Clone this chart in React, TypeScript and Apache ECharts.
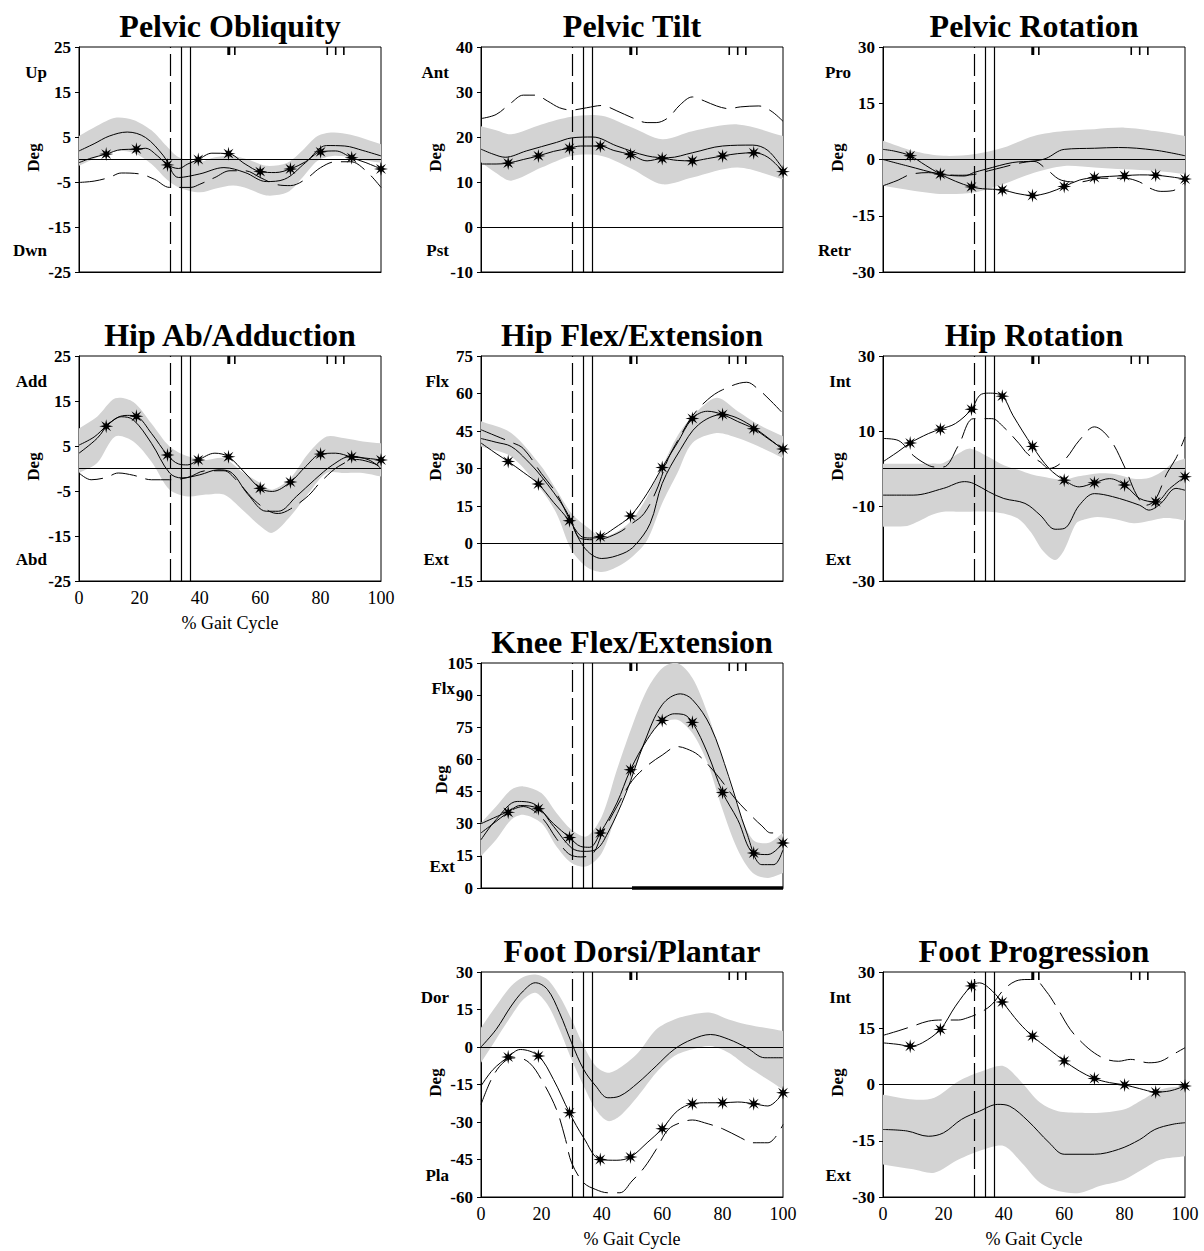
import React, { useEffect, useRef } from "react";
import * as echarts from "echarts";

// ---------- shared gait events ----------
const STAR_X = [9, 19, 29.3, 39.5, 49.5, 60, 70, 80, 90.3, 100];
const EVENT_DASHED_X = [30.3];
const EVENT_SOLID_X = [33.7, 37.0];
const TOP_TICKS_HEAVY = [49.6];
const TOP_TICKS_LIGHT = [51.6, 82.2, 85.0, 87.7];
const KNEE_BAR_X = [50, 100];

// ---------- Pelvic Obliquity ----------
const PO_BAND_X = [0, 6, 12, 18, 24, 29, 33, 40, 45, 51, 56, 62, 69, 74, 79, 84, 90, 95, 100];
const PO_BAND_HI = [5.2, 7.5, 9.3, 8.8, 6.5, 3, 0.5, -0.5, 0.5, 0.8, 0, -1.4, -0.7, 2, 5.2, 6, 5.5, 4.5, 3.4];
const PO_BAND_LO = [-1.4, 0.5, 1.9, 1.5, -1, -4.4, -6.2, -7.3, -6.5, -5.8, -6.5, -8, -7.3, -4, -0.3, 0.8, 0.5, -0.2, -0.7];
const PO_MEAN = [[0, 1.9], [5, 3.5], [10, 5.2], [16, 6.1], [22, 4.9], [28, 0.8], [33, -4], [40, -3.2], [48, -1.8], [55, -2.9], [62, -4.9], [68, -4.4], [75, -0.7], [82, 3.1], [88, 3], [94, 2], [100, 0.8]];
const PO_STAR = [[0, -0.7], [4, 0.3], [9, 1.2], [14, 2.2], [19, 2.3], [22, 2.5], [26, 0.8], [29.3, -1.2], [33, -2], [36, -1], [39.5, 0], [44, 1.4], [49.5, 1.3], [55, -1], [60, -2.7], [65, -2.9], [70, -2.1], [75, -0.5], [80, 1.7], [85, 1.9], [90.3, 0.4], [95, -0.7], [100, -2.1]];
const PO_DASH = [[0, -5.1], [5, -4.8], [10, -4], [14, -3], [20, -3.2], [25, -4.4], [30, -6.2], [37, -6.2], [40, -5.5], [45, -4], [50, -2.5], [55, -2.5], [60, -4], [65, -5.5], [70, -5.8], [75, -4.4], [80, -1.8], [85, -0.5], [90, -0.5], [95, -2.5], [100, -6.2]];

// ---------- Pelvic Tilt ----------
const PT_BAND_X = [0, 5, 10, 20, 30, 40, 50, 60, 70, 85, 100];
const PT_BAND_HI = [22.4, 21.5, 20.6, 22.8, 24.5, 24.7, 22.1, 19.5, 21.3, 22.8, 20.2];
const PT_BAND_LO = [14.4, 12, 10.3, 13.2, 15.8, 15.8, 12.9, 9.5, 11, 13.2, 10.6];
const PT_MEAN = [[0, 17.3], [4, 16.2], [8, 15.5], [15, 16.9], [25, 18.8], [30, 19.8], [37, 20], [45, 18], [55, 15.8], [62, 15.4], [70, 16.5], [80, 18], [90, 18.2], [95, 17], [100, 12.9]];
const PT_STAR = [[0, 14], [5, 14], [9, 14.2], [14, 15], [19, 15.8], [24, 16.8], [29.3, 17.5], [33, 18], [37, 18], [39.5, 18], [44, 17], [49.5, 16.1], [55, 14.7], [60, 15.2], [65, 14.8], [70, 14.7], [75, 15.2], [80, 15.8], [85, 16.3], [90.3, 16.5], [95, 15.5], [100, 12.3]];
const PT_DASH = [[0, 24.1], [5, 25], [10, 27.6], [14, 29.3], [18, 29.3], [22, 28], [26, 26.5], [30, 26], [35, 26.5], [40, 27], [45, 25.8], [50, 24.3], [55, 23.2], [58, 23.2], [62, 24.3], [66, 27.2], [70, 28.9], [74, 28], [78, 26.9], [82, 26.3], [86, 26.7], [92, 26.9], [96, 25.8], [100, 23.5]];

// ---------- Pelvic Rotation ----------
const PR_BAND_X = [0, 10, 20, 30, 40, 50, 60, 70, 80, 90, 100];
const PR_BAND_HI = [5, 2.3, 1, 1.4, 3.2, 6.3, 7.6, 8.1, 8.5, 7.6, 6.3];
const PR_BAND_LO = [-7, -8.3, -9.2, -8.8, -6.5, -3.5, -1.7, -2.1, -2.6, -3, -3.9];
const PR_MEAN = [[0, 0], [8, -1.7], [19, -3.9], [27, -4.4], [30, -3.5], [34, -2.6], [43, -0.8], [50, -0.4], [54, 0.3], [60, 2.7], [70, 3], [78, 3.2], [90, 2.5], [100, 1]];
const PR_STAR = [[0, 2.7], [4, 2.2], [9, 1], [14, -1.5], [19, -3.9], [24, -5.8], [29.3, -7.3], [33, -7.8], [39.5, -8.1], [44, -9], [49.5, -9.6], [55, -8.8], [60, -7.2], [65, -5.5], [70, -4.8], [75, -4.5], [80, -4.3], [85, -4.1], [90.3, -4.2], [95, -4.6], [100, -5.2]];
const PR_DASH = [[0, -7], [5, -5.5], [9, -4], [15, -3.5], [20, -4], [25, -4.2], [30, -4], [35, -3], [40, -2], [45, -1], [50, -0.5], [54, -2.5], [59, -5.5], [65, -6], [72, -5], [80, -5], [85, -6], [88, -7.5], [92, -8.5], [96, -8.3], [100, -6]];

// ---------- Hip Ab/Adduction ----------
const HA_BAND_X = [0, 6, 12, 18, 24, 30, 36, 42, 48, 54, 60, 64, 70, 76, 82, 88, 94, 100];
const HA_BAND_HI = [8.9, 11.5, 15.6, 14.8, 10, 4.9, 2.7, 1.9, 2.3, -0.7, -3.2, -4.7, -2.1, 3.4, 7.1, 6.7, 6, 5.6];
const HA_BAND_LO = [-1, 1.2, 7.1, 6, 1.5, -4.7, -6.2, -5.8, -5.8, -9.1, -12.8, -14.3, -10.6, -5.5, -1, -1, -1, -1.8];
const HA_MEAN = [[0, 3.4], [6, 6.7], [10, 10], [14, 11.5], [18, 10.8], [24, 5.6], [30, -1], [34, -2.1], [40, -1.4], [46, -0.3], [50, -0.7], [56, -5.8], [62, -9.5], [66, -9.5], [72, -6.2], [78, -2.5], [84, 0.8], [90, 2.7], [96, 1.9], [100, 0]];
const HA_STAR = [[0, 5.2], [5, 7], [9, 9.4], [13, 11.4], [16, 11.8], [19, 11.6], [24, 7.8], [29.3, 3], [33, 1], [36, 0.8], [39.5, 1.9], [45, 3.4], [49.5, 2.6], [55, -1], [60, -4.4], [64, -5.1], [70, -3], [75, 0.4], [80, 3.2], [85, 3.4], [90.3, 2.6], [95, 2.3], [100, 1.9]];
const HA_DASH = [[0, -1], [4, -2.5], [9, -2], [13, -1], [18, -1.5], [24, -2.5], [30, -2.5], [36, -2], [42, -0.5], [48, -0.5], [52, -2.5], [58, -7], [63, -9.5], [66, -10], [70, -9], [76, -6], [80, -3], [86, 0.5], [92, 2], [100, 0.5]];

// ---------- Hip Flex/Extension ----------
const HF_BAND_X = [0, 10, 20, 25, 30, 35, 40, 45, 50, 55, 60, 65, 70, 78, 85, 92, 100];
const HF_BAND_HI = [48.9, 44.2, 30.8, 21.4, 12, 6.7, 2.7, 4.7, 9.4, 18.7, 30.8, 42.9, 50.9, 58.3, 52.9, 47.5, 42.9];
const HF_BAND_LO = [38.8, 34.8, 21.4, 12, -2.7, -9.4, -11.4, -9.4, -5.4, 1.3, 16.1, 28.1, 40.2, 44.2, 42.2, 38.8, 34.2];
const HF_MEAN = [[0, 42], [5, 40.5], [10, 38.8], [15, 33.5], [20, 26.8], [28, 13.4], [34, -1.3], [40, -6], [47, -4], [51, -0.7], [56, 8], [60, 24], [66, 37.5], [72, 47.5], [80, 51.6], [88, 48.2], [100, 37.5]];
const HF_STAR = [[0, 40.2], [5, 36], [9, 32.8], [14, 28.5], [19, 23.8], [24, 16.5], [29.3, 9.1], [33, 3], [36, 2.2], [39.5, 2.7], [44, 6], [49.5, 11], [55, 20], [60, 30.4], [65, 40.2], [70, 50], [75, 52.9], [80, 51.6], [85, 48.8], [90.3, 45.9], [95, 42], [100, 37.8]];
const HF_DASH = [[0, 45.5], [5, 43], [10, 40.5], [14, 38], [20, 28], [25, 20], [30, 8], [33, 2], [38, 1.5], [45, 4], [50, 8], [54, 12], [58, 21], [62, 34], [66, 43], [70, 51], [75, 57.5], [80, 61.5], [88, 64.5], [92, 61.5], [96, 57], [100, 52]];

// ---------- Hip Rotation ----------
const HR_BAND_X = [0, 8, 12, 16, 20, 25, 29, 35, 40, 45, 49, 53, 57, 60, 64, 67, 71, 77, 83, 88, 92, 96, 100];
const HR_BAND_HI = [1.3, 1.3, 1.3, 1.3, 1.5, 4, 5.3, 3.1, 0.9, -0.4, -1.5, -2.2, -2.8, -3.1, -2.2, -1.8, -1.3, -1.5, -2.7, -2.5, -1, 1.5, 2.7];
const HR_BAND_LO = [-15.5, -15.3, -14, -12.4, -11.5, -11.5, -11.5, -11.5, -12, -13.5, -17, -22, -24.4, -21.7, -14.6, -13.5, -12.9, -13.5, -14.6, -14, -13.3, -13.3, -13.8];
const HR_MEAN = [[0, -7.1], [10, -7.1], [20, -5.3], [27, -3.5], [30, -4], [35, -6.2], [40, -8], [47, -9.3], [52, -12.4], [57, -16.2], [60, -16], [65, -9.8], [70, -6.7], [76, -7.5], [85, -9.8], [88, -11.1], [92, -9.3], [97, -5.3], [100, -5.8]];
const HR_STAR = [[0, 1.8], [5, 4.5], [9, 6.8], [15, 9.3], [19, 10.5], [24, 12], [29.3, 15.8], [32, 19.5], [35, 20.1], [39.5, 19.3], [43, 14.2], [49.5, 5.9], [55, 0], [60, -3.1], [65, -4.9], [70, -3.8], [75, -2.7], [80, -4.4], [85, -8], [90.3, -8.9], [95, -5.3], [100, -2.2]];
const HR_DASH = [[0, 8], [5, 7.5], [10, 3.5], [14, 1.3], [17, 0.4], [20, 0.4], [25, 6.2], [30, 13.3], [36, 13.3], [40, 11], [45, 6.7], [48, 3.8], [52, 1.8], [55, 0], [60, 2.2], [65, 7.5], [70, 11.1], [75, 8], [80, 0.4], [84, -7.1], [87, -9.8], [90, -8.5], [94, -1.3], [97, 2.7], [100, 8.4]];

// ---------- Knee Flex/Extension ----------
const KN_BAND_X = [0, 5, 10, 14, 20, 25, 30, 35, 40, 45, 50, 55, 60, 65, 70, 75, 80, 85, 90, 95, 100];
const KN_BAND_HI = [30.3, 38, 45.8, 47.4, 44.3, 35, 27.2, 24.1, 33.4, 55.2, 75.4, 92.6, 102.6, 105, 98, 81.6, 59.9, 38.1, 22.5, 21, 25.7];
const KN_BAND_LO = [14.8, 22.5, 31.9, 34.2, 30.3, 19.4, 11.7, 10.1, 16.3, 35, 52.1, 69.2, 77, 78.5, 72.3, 58.3, 36.5, 17.9, 7, 4.7, 7];
const KN_MEAN = [[0, 22.5], [5, 31.9], [12, 40.4], [18, 38.9], [24, 28.8], [30, 18.7], [34, 17.1], [38, 17.9], [42, 25.7], [48, 44.3], [54, 67.6], [60, 85.5], [66, 90.6], [70, 87.9], [76, 75.4], [82, 52.1], [88, 25.7], [93, 10.9], [97, 10.9], [100, 17.9]];
const KN_STAR = [[0, 25.7], [4, 30], [9, 35.3], [13, 38.5], [19, 37], [24, 30], [29.3, 23.6], [33, 19.4], [36, 19], [39.5, 25.7], [45, 39.7], [49.5, 55.2], [55, 69.2], [60, 78.2], [64, 81.3], [67, 81], [70, 77.3], [75, 63], [80, 44.6], [85, 31.9], [90.3, 16.3], [95, 15.6], [100, 21]];
const KN_DASH = [[0, 30], [8, 35], [14, 38], [20, 33], [25, 23], [29, 16], [33, 14.5], [37, 16], [40, 25], [45, 38], [50, 50], [55, 57], [60, 62], [65, 66], [68, 65], [72, 62], [78, 53], [84, 42], [90, 33], [93, 29], [96, 25.7], [100, 25.7]];

// ---------- Foot Dorsi/Plantar ----------
const FD_BAND_X = [0, 5, 10, 14, 18, 22, 26, 30, 34, 38, 42, 46, 52, 58, 64, 70, 76, 82, 88, 94, 100];
const FD_BAND_HI = [7.7, 16.4, 24.4, 28, 29, 27, 20.4, 11, 0.4, -7.6, -10.3, -8.3, -2.3, 7, 11, 13, 13.7, 11, 9, 7.7, 6.4];
const FD_BAND_LO = [-6.3, 3.1, 12.4, 19, 21.7, 17, 7, -5, -15.6, -25, -29.6, -27.6, -19.6, -10.3, -3.6, -0.9, 0.4, -2.3, -7.6, -12.3, -17];
const FD_MEAN = [[0, 0], [5, 7], [10, 16.4], [14, 22.4], [18, 25.7], [22, 23], [26, 13.7], [30, 1.7], [34, -9], [38, -15.6], [42, -20.3], [46, -19.6], [52, -14.3], [58, -7.6], [64, -0.9], [70, 3.1], [76, 5], [82, 3.1], [88, -0.3], [94, -4.3], [100, -4.3]];
const FD_STAR = [[0, -15.6], [4, -9], [9, -4], [13, -1], [19, -3.6], [24, -13], [29.3, -26.3], [34, -36.3], [39.5, -45], [45, -45.3], [49.5, -44], [55, -38.3], [60, -32.7], [65, -25.6], [70, -22.7], [75, -22.3], [80, -22.3], [85, -22], [90.3, -22.7], [95, -23.6], [100, -18.3]];
const FD_DASH = [[0, -23], [4, -11.6], [8, -5.6], [12, -4.3], [16, -6.3], [20, -13], [25, -25], [28, -37], [30, -46.3], [34, -54.3], [38, -57], [42, -58.3], [46, -58.3], [50, -53.6], [54, -48.3], [58, -41], [62, -33], [66, -30.3], [70, -29.2], [74, -30.3], [80, -32.7], [86, -36.3], [90, -38.3], [95, -38.3], [100, -31]];

// ---------- Foot Progression ----------
const FP_BAND_X = [0, 10, 17, 25, 33, 40, 46, 52, 58, 65, 72, 80, 86, 92, 100];
const FP_BAND_HI = [-2.7, -4, -3.5, 0.9, 3.6, 4.9, 0.5, -4.8, -7.1, -7.5, -7.5, -6.6, -4, -1.3, -0.4];
const FP_BAND_LO = [-21.3, -22.6, -23.5, -20, -17.4, -16.4, -20.9, -26.2, -28.4, -28.9, -27, -25.3, -22.6, -20, -19.1];
const FP_MEAN = [[0, -12], [8, -12.4], [15, -13.8], [20, -12.9], [26, -9.3], [32, -7.1], [38, -5.3], [42, -5.8], [48, -9.7], [55, -15.5], [60, -18.6], [70, -18.6], [78, -17.3], [85, -14.7], [90, -12], [96, -10.6], [100, -10.2]];
const FP_STAR = [[0, 11.1], [5, 10.7], [9, 10.2], [13, 11.1], [19, 14.7], [24, 20.9], [29.3, 26.3], [32, 27.1], [35, 25.8], [39.5, 22], [45, 16.5], [49.5, 12.9], [55, 9.4], [60, 6.3], [65, 3.6], [70, 1.6], [75, 0.5], [80, -0.1], [85, -1.1], [90.3, -2], [95, -1.7], [100, -0.4]];
const FP_DASH = [[0, 13.1], [5, 14.3], [10, 15.6], [15, 16.9], [20, 17.2], [25, 17.2], [28, 17.8], [32, 19.1], [36, 21.3], [40, 25.3], [44, 27.6], [48, 28], [50, 28], [54, 24.9], [58, 20], [62, 14.7], [66, 11.1], [70, 8.4], [74, 6.7], [78, 6.2], [82, 6.7], [88, 5.8], [92, 6.2], [96, 8], [100, 9.8]];

// ---------- layout / style ----------
const SERIF = "'Liberation Serif', 'Times New Roman', Times, serif";
const COL_LEFT = [79, 481, 883];
const ROW_TOP = [47, 356, 663, 972];
const PLOT_W = 302;
const PLOT_H = 225;
const BAND_COLOR = "#d3d3d3";

const PANELS = [
  { title: "Pelvic Obliquity", min: -25, max: 25, interval: 10, hi: "Up", lo: "Dwn", col: 0, row: 0, xLabels: false, bx: PO_BAND_X, bh: PO_BAND_HI, bl: PO_BAND_LO, mean: PO_MEAN, star: PO_STAR, dash: PO_DASH },
  { title: "Pelvic Tilt", min: -10, max: 40, interval: 10, hi: "Ant", lo: "Pst", col: 1, row: 0, xLabels: false, bx: PT_BAND_X, bh: PT_BAND_HI, bl: PT_BAND_LO, mean: PT_MEAN, star: PT_STAR, dash: PT_DASH },
  { title: "Pelvic Rotation", min: -30, max: 30, interval: 15, hi: "Pro", lo: "Retr", col: 2, row: 0, xLabels: false, bx: PR_BAND_X, bh: PR_BAND_HI, bl: PR_BAND_LO, mean: PR_MEAN, star: PR_STAR, dash: PR_DASH },
  { title: "Hip Ab/Adduction", min: -25, max: 25, interval: 10, hi: "Add", lo: "Abd", col: 0, row: 1, xLabels: true, bx: HA_BAND_X, bh: HA_BAND_HI, bl: HA_BAND_LO, mean: HA_MEAN, star: HA_STAR, dash: HA_DASH },
  { title: "Hip Flex/Extension", min: -15, max: 75, interval: 15, hi: "Flx", lo: "Ext", col: 1, row: 1, xLabels: false, bx: HF_BAND_X, bh: HF_BAND_HI, bl: HF_BAND_LO, mean: HF_MEAN, star: HF_STAR, dash: HF_DASH },
  { title: "Hip Rotation", min: -30, max: 30, interval: 20, hi: "Int", lo: "Ext", col: 2, row: 1, xLabels: false, bx: HR_BAND_X, bh: HR_BAND_HI, bl: HR_BAND_LO, mean: HR_MEAN, star: HR_STAR, dash: HR_DASH },
  { title: "Knee Flex/Extension", min: 0, max: 105, interval: 15, hi: "Flx", lo: "Ext", col: 1, row: 2, xLabels: false, knee: true, bx: KN_BAND_X, bh: KN_BAND_HI, bl: KN_BAND_LO, mean: KN_MEAN, star: KN_STAR, dash: KN_DASH },
  { title: "Foot Dorsi/Plantar", min: -60, max: 30, interval: 15, hi: "Dor", lo: "Pla", col: 1, row: 3, xLabels: true, bx: FD_BAND_X, bh: FD_BAND_HI, bl: FD_BAND_LO, mean: FD_MEAN, star: FD_STAR, dash: FD_DASH },
  { title: "Foot Progression", min: -30, max: 30, interval: 15, hi: "Int", lo: "Ext", col: 2, row: 3, xLabels: true, bx: FP_BAND_X, bh: FP_BAND_HI, bl: FP_BAND_LO, mean: FP_MEAN, star: FP_STAR, dash: FP_DASH },
];

const STAR_PATH = (() => {
  const pts: string[] = [];
  for (let k = 0; k < 16; k++) {
    const a = -Math.PI / 2 + (k * Math.PI) / 8;
    const r = k % 2 === 0 ? 10 : 3.6;
    pts.push(`${(r * Math.cos(a)).toFixed(2)},${(r * Math.sin(a)).toFixed(2)}`);
  }
  return "path://M" + pts.join("L") + "Z";
})();

function buildOption() {
  const grid: any[] = [];
  const xAxis: any[] = [];
  const yAxis: any[] = [];
  const series: any[] = [];
  const elements: any[] = [];

  PANELS.forEach((p: any, i) => {
    const left = COL_LEFT[p.col];
    const top = ROW_TOP[p.row];
    grid.push({ left, top, width: PLOT_W, height: PLOT_H, show: true, borderColor: "#000", borderWidth: 1, backgroundColor: "transparent" });
    xAxis.push({
      type: "value", gridIndex: i, min: 0, max: 100, interval: 20,
      axisLine: { show: true, onZero: false, lineStyle: { color: "#000", width: 1 } },
      axisTick: { show: false }, splitLine: { show: false },
      axisLabel: { show: p.xLabels, fontFamily: SERIF, fontSize: 18, color: "#000", margin: 8 },
      name: p.xLabels ? "% Gait Cycle" : "", nameLocation: "middle", nameGap: 33,
      nameTextStyle: { fontFamily: SERIF, fontSize: 18, color: "#000" },
    });
    yAxis.push({
      type: "value", gridIndex: i, min: p.min, max: p.max, interval: p.interval,
      axisLine: { show: true, onZero: false, lineStyle: { color: "#000", width: 1 } },
      axisTick: { show: true, length: 4, lineStyle: { color: "#000" } },
      splitLine: { show: false },
      axisLabel: { fontFamily: SERIF, fontSize: 17, fontWeight: "bold", color: "#000", margin: 8 },
    });

    const common = { xAxisIndex: i, yAxisIndex: i, silent: true, animation: false };
    // normative band: upper edge forward, lower edge back; corners doubled so they stay sharp
    series.push({ ...common, type: "custom", z: 1, clip: true,
      data: [[50, (p.min + p.max) / 2]], encode: { x: 0, y: 1 },
      renderItem: (params: any, api: any) => {
        const up = p.bx.map((x: number, k: number) => api.coord([x, p.bh[k]]));
        const dn = p.bx.map((x: number, k: number) => api.coord([x, p.bl[k]])).reverse();
        const pts = [up[0], ...up, up[up.length - 1], dn[0], ...dn, dn[dn.length - 1]];
        return { type: "polygon", shape: { points: pts, smooth: 0.3 }, style: { fill: BAND_COLOR, stroke: null } };
      } });

    const markData: any[] = [
      ...EVENT_SOLID_X.map((x) => ({ xAxis: x })),
      ...EVENT_DASHED_X.map((x) => ({ xAxis: x, lineStyle: { type: [22, 6], color: "#000", width: 1.2 } })),
    ];
    if (p.min < 0) markData.push({ yAxis: 0 });

    // normal mean
    series.push({ ...common, type: "line", symbol: "none", smooth: 0.35, data: p.mean,
      lineStyle: { color: "#000", width: 1 }, z: 3,
      markLine: { silent: true, symbol: ["none", "none"], label: { show: false }, animation: false,
        lineStyle: { color: "#000", width: 1.2, type: "solid" }, data: markData } });
    // starred trace
    series.push({ ...common, type: "line", smooth: 0.35, showSymbol: true, symbol: "none",
      data: p.star.map((d: number[]) => STAR_X.includes(d[0])
        ? { value: d, symbol: STAR_PATH, symbolSize: 14 }
        : { value: d, symbol: "none" }),
      itemStyle: { color: "#000" }, lineStyle: { color: "#000", width: 1 }, z: 4 });
    // dashed trace
    series.push({ ...common, type: "line", symbol: "none", smooth: 0.35, data: p.dash,
      lineStyle: { color: "#000", width: 1, type: [26, 9] }, z: 3 });
    // top event ticks
    const maxY = p.max;
    series.push({ ...common, type: "custom", clip: false, z: 6,
      data: [...TOP_TICKS_HEAVY.map((x) => [x, 3]), ...TOP_TICKS_LIGHT.map((x) => [x, 1.6])],
      encode: { x: 0 },
      renderItem: (params: any, api: any) => {
        const pt = api.coord([api.value(0), maxY]);
        return { type: "line", shape: { x1: pt[0], y1: pt[1], x2: pt[0], y2: pt[1] + 8 },
          style: { stroke: "#000", lineWidth: api.value(1) } };
      } });
    if (p.knee) {
      series.push({ ...common, type: "line", symbol: "none", data: KNEE_BAR_X.map((x) => [x, 0]),
        lineStyle: { color: "#000", width: 3.5 }, z: 7, clip: false });
    }

    // texts
    elements.push({ type: "text", x: left + PLOT_W / 2, y: top - 21, silent: true,
      style: { text: p.title, fontFamily: SERIF, fontSize: 32, fontWeight: "bold", fill: "#000", textAlign: "center", textVerticalAlign: "middle" } });
    const sideX = p.knee ? left - 26 : left - 32;
    elements.push({ type: "text", x: sideX, y: top + 25, silent: true,
      style: { text: p.hi, fontFamily: SERIF, fontSize: 17, fontWeight: "bold", fill: "#000", textAlign: "right", textVerticalAlign: "middle" } });
    elements.push({ type: "text", x: sideX, y: top + PLOT_H - 22, silent: true,
      style: { text: p.lo, fontFamily: SERIF, fontSize: 17, fontWeight: "bold", fill: "#000", textAlign: "right", textVerticalAlign: "middle" } });
    elements.push({ type: "text", x: p.knee ? left - 40 : left - 46, y: top + PLOT_H / 2 + (p.knee ? 4 : -2), rotation: Math.PI / 2, silent: true,
      style: { text: "Deg", fontFamily: SERIF, fontSize: 17, fontWeight: "bold", fill: "#000", textAlign: "center", textVerticalAlign: "middle" } });
  });

  return {
    animation: false,
    backgroundColor: "#fff",
    grid, xAxis, yAxis, series,
    graphic: { elements },
  };
}

export default function App() {
  const ref = useRef<HTMLDivElement>(null);
  useEffect(() => {
    const chart = echarts.init(ref.current as HTMLDivElement, null, { renderer: "svg" });
    chart.setOption(buildOption() as any);
    return () => chart.dispose();
  }, []);
  return <div ref={ref} style={{ position: "absolute", left: 0, top: 0, width: 1204, height: 1251, background: "#fff" }} />;
}
